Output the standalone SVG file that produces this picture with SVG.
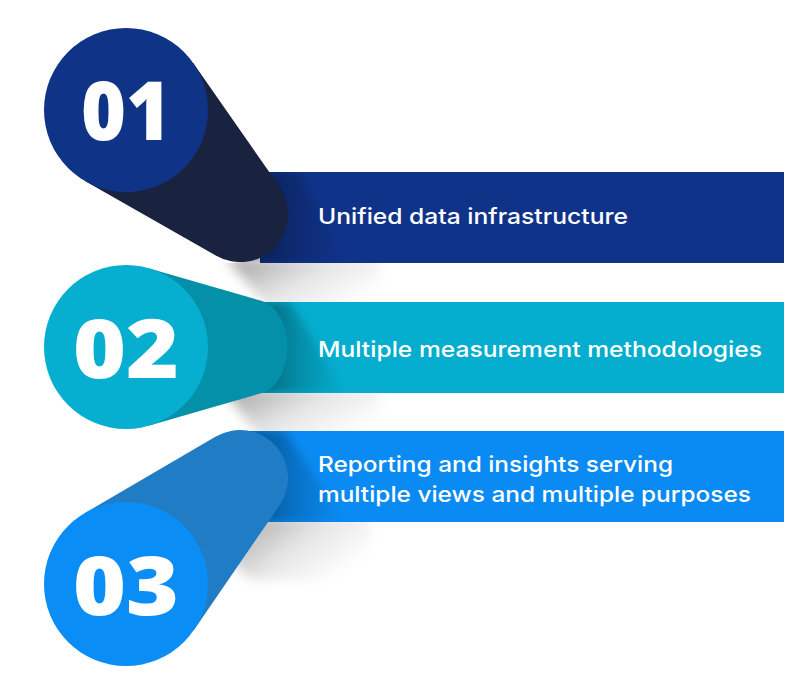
<svg xmlns="http://www.w3.org/2000/svg" width="811" height="692" viewBox="0 0 811 692">
<defs>
<style>
.num{font-family:"Open Sans","Liberation Sans",sans-serif;font-weight:800;font-size:82px;fill:#ffffff;text-anchor:middle}
.lbl{font-family:Inter,"Open Sans","Liberation Sans",sans-serif;font-weight:500;font-size:22px;fill:#ffffff}
.gs{fill:url(#gGrey);filter:url(#blurA)}
.bs{fill:url(#gDark);filter:url(#blurB)}
</style>
<filter id="blurA" x="-50%" y="-50%" width="200%" height="200%"><feGaussianBlur stdDeviation="6"/></filter>
<filter id="blurB" x="-50%" y="-50%" width="200%" height="200%"><feGaussianBlur stdDeviation="4"/></filter>
<linearGradient id="gGrey" x1="0" y1="0" x2="1" y2="0.6"><stop offset="0" stop-color="#000" stop-opacity="0.38"/><stop offset="0.55" stop-color="#000" stop-opacity="0.1"/><stop offset="1" stop-color="#000" stop-opacity="0"/></linearGradient>
<linearGradient id="gDark" x1="0" y1="0" x2="1" y2="0"><stop offset="0" stop-color="#000" stop-opacity="0.5"/><stop offset="0.5" stop-color="#000" stop-opacity="0.2"/><stop offset="1" stop-color="#000" stop-opacity="0"/></linearGradient>
<clipPath id="clip1"><rect x="230" y="172" width="554" height="91"/></clipPath>
<clipPath id="clip2"><rect x="230" y="302" width="554" height="91"/></clipPath>
<clipPath id="clip3"><rect x="230" y="431" width="554" height="91"/></clipPath>
<clipPath id="clipS1"><rect x="200" y="263" width="250" height="39"/></clipPath>
<clipPath id="clipS2"><rect x="200" y="393" width="250" height="38"/></clipPath>
<clipPath id="clipS3"><rect x="200" y="522" width="250" height="80"/></clipPath>
</defs>

<g id="shadows">
<g clip-path="url(#clipS1)"><polygon class="gs" points="226,258 380,258 380,310 270,310"/></g>
<g clip-path="url(#clipS2)"><polygon class="gs" points="222,388 380,388 380,440 262,440"/></g>
<g clip-path="url(#clipS3)"><polygon class="gs" points="262,516 370,516 370,580 250,580 230,560"/></g>
</g>

<g id="node1">
<rect x="260" y="172" width="524" height="91" fill="#10338a"/>
<g clip-path="url(#clip1)"><polygon class="bs" points="265,172 300,172 345,263 235,263"/></g>
<path d="M 193.2 63.1 L 279.4 186.5 A 48 48 0 0 1 216.2 255.7 L 85.4 181.2 Z" fill="#19233f"/>
<circle cx="126" cy="110" r="82" fill="#0f3487"/>
<text class="num" x="126" y="140" textLength="90" lengthAdjust="spacingAndGlyphs">01</text>
<text class="lbl" x="318" y="224" textLength="310" lengthAdjust="spacingAndGlyphs">Unified data infrastructure</text>
</g>

<g id="node2">
<rect x="250" y="302" width="534" height="91" fill="#05adce"/>
<g clip-path="url(#clip2)"><polygon class="bs" points="255,302 290,302 345,393 245,393"/></g>
<path d="M 148.6 268.2 L 262 301 A 32 47 0 0 1 262 393 L 148.6 425.8 Z" fill="#0490a9"/>
<circle cx="126" cy="347" r="82" fill="#06afd0"/>
<text class="num" x="126" y="378" textLength="106" lengthAdjust="spacingAndGlyphs">02</text>
<text class="lbl" x="318" y="357" textLength="444" lengthAdjust="spacingAndGlyphs">Multiple measurement methodologies</text>
</g>

<g id="node3">
<rect x="230" y="431" width="554" height="91" fill="#0a8bf3"/>
<g clip-path="url(#clip3)"><polygon class="bs" points="245,431 285,431 345,522 235,522"/></g>
<path d="M 84.6 513.2 L 215.8 436.6 A 48 48 0 0 1 279.6 505.2 L 193.6 630.4 Z" fill="#217cc6"/>
<circle cx="126" cy="584" r="82" fill="#0a8ef5"/>
<text class="num" x="126" y="615" textLength="106" lengthAdjust="spacingAndGlyphs">03</text>
<text class="lbl" x="318" y="472" textLength="355" lengthAdjust="spacingAndGlyphs">Reporting and insights serving</text>
<text class="lbl" x="318" y="502" textLength="433" lengthAdjust="spacingAndGlyphs">multiple views and multiple purposes</text>
</g>
<g id="connectors"/>
</svg>
